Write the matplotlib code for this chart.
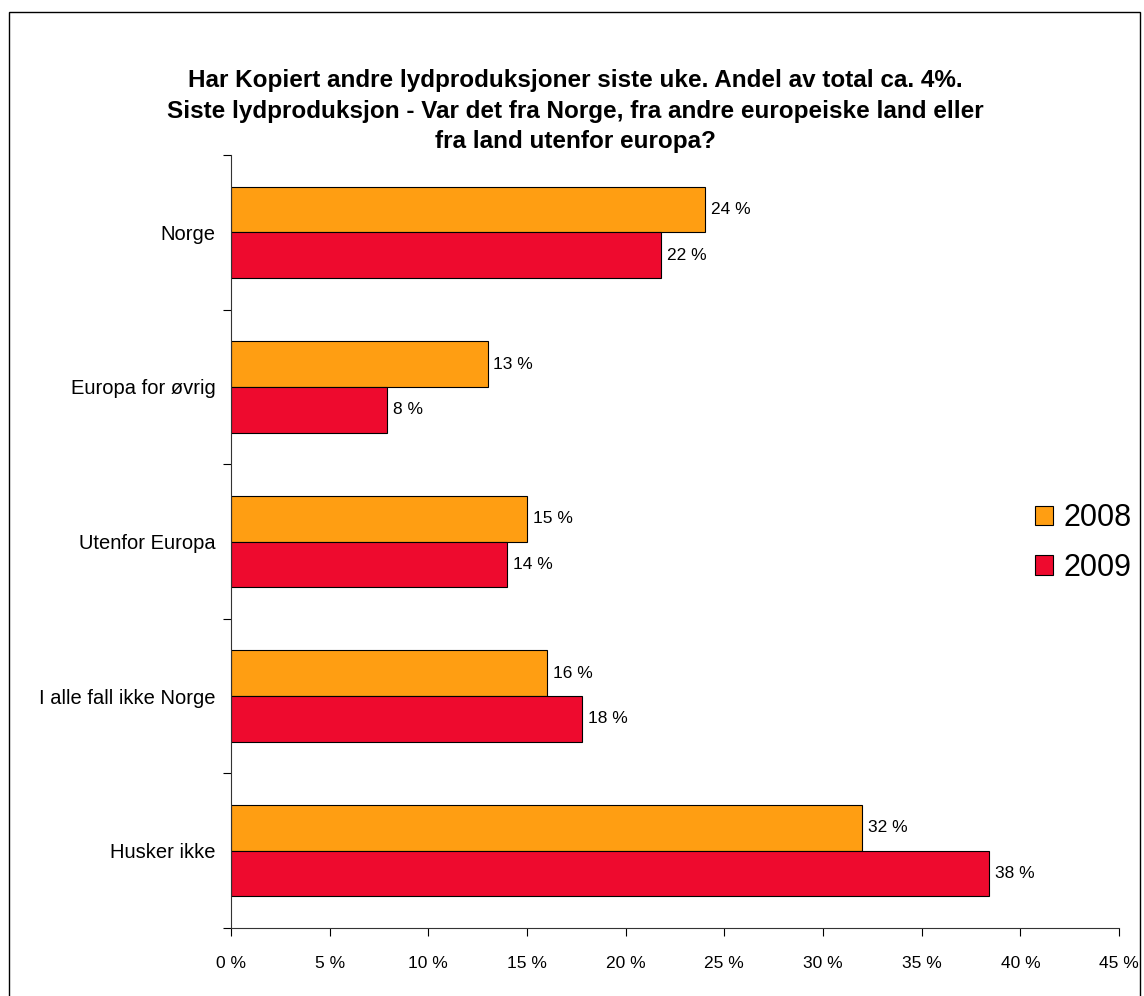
import matplotlib.pyplot as plt
import numpy as np
from matplotlib.patches import Rectangle

plt.rcParams['font.family'] = ['Liberation Sans', 'DejaVu Sans']

# data
categories = ["Norge", "Europa for øvrig", "Utenfor Europa", "I alle fall ikke Norge", "Husker ikke"]
values_2008 = [24.0, 13.0, 15.0, 16.0, 32.0]
values_2009 = [21.8, 7.9, 14.0, 17.8, 38.4]
labels_2008 = ["24 %", "13 %", "15 %", "16 %", "32 %"]
labels_2009 = ["22 %", "8 %", "14 %", "18 %", "38 %"]
series_names = ["2008", "2009"]
xticks = [0, 5, 10, 15, 20, 25, 30, 35, 40, 45]

title = ("Har Kopiert andre lydproduksjoner siste uke. Andel av total ca. 4%.\n"
         "Siste lydproduksjon - Var det fra Norge, fra andre europeiske land eller\n"
         "fra land utenfor europa?")

C2008 = "#FF9E12"
C2009 = "#EE0A2E"

fig = plt.figure(figsize=(11.44, 9.96), dpi=100)
ax = fig.add_axes([231 / 1144, 68 / 996, 888 / 1144, 773 / 996])

# outer frame
fig.patches.append(Rectangle((9 / 1144, -0.05), 1131 / 1144, 1.05 - 12 / 996,
                             transform=fig.transFigure, fill=False,
                             edgecolor="black", linewidth=1.0))

n = len(categories)
pos = np.arange(n)
h = 0.295
bars08 = ax.barh(pos - h / 2, values_2008, height=h, color=C2008,
                 edgecolor="black", linewidth=0.8, label=series_names[0])
bars09 = ax.barh(pos + h / 2, values_2009, height=h, color=C2009,
                 edgecolor="black", linewidth=0.8, label=series_names[1])

for b, t in zip(bars08, labels_2008):
    ax.text(b.get_width() + 0.3, b.get_y() + b.get_height() / 2, t,
            va="center", ha="left", fontsize=12.5)
for b, t in zip(bars09, labels_2009):
    ax.text(b.get_width() + 0.3, b.get_y() + b.get_height() / 2, t,
            va="center", ha="left", fontsize=12.5)

ax.set_ylim(n - 0.5, -0.5)
ax.set_xlim(0, 45)

# Excel style: ticks between categories, labels centred
ax.set_yticks(np.arange(n + 1) - 0.5)
ax.set_yticklabels([])
ax.set_yticks(pos, minor=True)
ax.set_yticklabels(categories, minor=True, fontsize=14.5)
ax.tick_params(axis="y", which="minor", length=0, pad=11)
ax.tick_params(axis="y", which="major", length=6, direction="out")

ax.set_xticks(xticks)
ax.set_xticklabels([f"{v} %" for v in xticks], fontsize=12.5)
ax.tick_params(axis="x", length=6, direction="out", pad=14)

for s in ["top", "right"]:
    ax.spines[s].set_visible(False)
for s in ["left", "bottom"]:
    ax.spines[s].set_color("#333333")

fig.text(575 / 1144, 1 - 111 / 996, title, ha="center", va="center",
         fontsize=17.5, fontweight="bold", linespacing=1.4)

leg = fig.legend(loc="center left", bbox_to_anchor=(1035 / 1144, 1 - 543 / 996),
                 frameon=False, fontsize=22, handlelength=0.6, handleheight=0.6,
                 handletextpad=0.33, labelspacing=0.65, borderpad=0,
                 borderaxespad=0)

fig.savefig("out.png", dpi=100)
